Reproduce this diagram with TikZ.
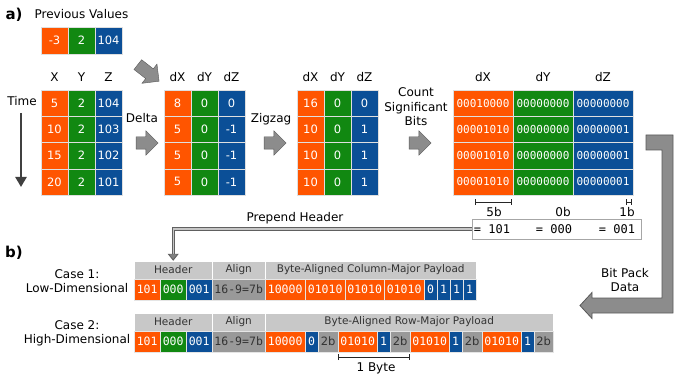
\documentclass[tikz,border=0pt]{standalone}
\usepackage{fontspec}
\setmainfont{DejaVu Sans}
\setmonofont{DejaVu Sans Mono}
\usepackage{xcolor}
\usepackage{tikz}
\usetikzlibrary{positioning, arrows.meta, shapes.arrows, calc}
\definecolor{orng}{RGB}{255,85,0}
\definecolor{grn}{RGB}{17,136,17}
\definecolor{blu}{RGB}{11,79,151}
\definecolor{hdrgray}{RGB}{200,200,200}
\definecolor{algray}{RGB}{153,153,153}
\definecolor{arrgray}{RGB}{140,140,140}

\begin{document}
\begin{tikzpicture}[x=1pt, y=-1pt,
    cell/.style={draw=gray!25, fill=#1, text=white, minimum width=27pt, minimum height=26.25pt, inner sep=0pt, font=\fontsize{11.5}{13}\selectfont},
    bincell/.style={cell=#1, minimum width=60pt, font=\ttfamily\fontsize{11}{12}\selectfont},
    colhead/.style={font=\fontsize{12}{13}\selectfont},
    lbl/.style={font=\fontsize{12}{14.5}\selectfont, align=center},
    blockarr/.style={single arrow, draw=gray!70!black, fill=arrgray, minimum height=22pt, inner sep=6pt, single arrow head extend=6pt, single arrow head indent=0pt},
    hcell/.style={draw=white, fill=hdrgray, text=black!80, minimum height=18pt, inner sep=0pt, anchor=west, font=\fontsize{10.5}{12}\selectfont},
    pcell/.style={draw=white!80!gray, minimum height=21pt, inner sep=0pt, anchor=west, font=\ttfamily\fontsize{11.5}{12}\selectfont},
    po/.style={pcell, fill=orng, text=white},
    pg/.style={pcell, fill=grn, text=white},
    pb/.style={pcell, fill=blu, text=white},
    pa/.style={pcell, fill=algray, text=black!80},
    pt/.style={pcell, fill=algray, text=black!80, font=\fontsize{11.5}{12}\selectfont},
    tick/.style={{Bar[width=6pt]}-{Bar[width=6pt]}, line width=1pt, black!85},
    prep/.style={draw=gray!75!black, double=gray!45, double distance=1.3pt, line width=0.9pt, -{Triangle[length=7pt, width=11pt, fill=gray]}},
    panel/.style={font=\bfseries\fontsize{15}{17}\selectfont}
]
\useasboundingbox (0,0) rectangle (675,377);

% Panel labels
\node[panel] (pa) at (14,15) {a)};
\node[panel] (pb) at (14,253) {b)};

% Previous values
\node[lbl] (prevlbl) at (81.5,14) {Previous Values};
\node[cell=orng, minimum height=27pt] (prev-x) at (54.5,40.5) {-3};
\node[cell=grn, minimum height=27pt]  (prev-y) at (81.5,40.5) {2};
\node[cell=blu, minimum height=27pt]  (prev-z) at (108.5,40.5) {104};

% Raw values
\node[colhead] (hx) at (54.5,77) {X};
\node[colhead] (hy) at (81.5,77) {Y};
\node[colhead] (hz) at (108.5,77) {Z};
\foreach \xv/\yv/\zv [count=\r] in {5/2/104, 10/2/103, 15/2/102, 20/2/101} {
  \node[cell=orng] (raw-x\r) at (54.5,76.875+26.25*\r) {\xv};
  \node[cell=grn]  (raw-y\r) at (81.5,76.875+26.25*\r) {\yv};
  \node[cell=blu]  (raw-z\r) at (108.5,76.875+26.25*\r) {\zv};
}
\node[lbl] (time) at (22,101) {Time};
\coordinate (time-top) at (21,113);
\coordinate (time-end) at (21,187);
\draw[line width=2.5pt, black!75, -{Triangle[length=10pt, width=11pt]}] (time-top) -- (time-end);

% Delta
\node[blockarr, minimum height=27pt, rotate=-38] (arr-prev) at (146,71) {};
\node[lbl] (delta) at (142,118) {Delta};
\node[blockarr] (arr-delta) at (144,143) {};
\node[colhead] (dhx) at (177.5,77) {dX};
\node[colhead] (dhy) at (204.5,77) {dY};
\node[colhead] (dhz) at (231.5,77) {dZ};
\foreach \xv/\yv/\zv [count=\r] in {8/0/0, 5/0/-1, 5/0/-1, 5/0/-1} {
  \node[cell=orng] (del-x\r) at (177.5,76.875+26.25*\r) {\xv};
  \node[cell=grn]  (del-y\r) at (204.5,76.875+26.25*\r) {\yv};
  \node[cell=blu]  (del-z\r) at (231.5,76.875+26.25*\r) {\zv};
}

% Zigzag
\node[lbl] (zigzag) at (271,119) {Zigzag};
\node[blockarr] (arr-zig) at (272,143) {};
\node[colhead] (zhx) at (310.5,77) {dX};
\node[colhead] (zhy) at (337.5,77) {dY};
\node[colhead] (zhz) at (364.5,77) {dZ};
\foreach \xv/\yv/\zv [count=\r] in {16/0/0, 10/0/1, 10/0/1, 10/0/1} {
  \node[cell=orng] (zig-x\r) at (310.5,76.875+26.25*\r) {\xv};
  \node[cell=grn]  (zig-y\r) at (337.5,76.875+26.25*\r) {\yv};
  \node[cell=blu]  (zig-z\r) at (364.5,76.875+26.25*\r) {\zv};
}

% Significant bits
\node[lbl] (count) at (416,107) {Count\\Significant\\Bits};
\node[blockarr] (arr-count) at (417,143) {};
\node[colhead] (bhx) at (483,77) {dX};
\node[colhead] (bhy) at (543,77) {dY};
\node[colhead] (bhz) at (603,77) {dZ};
\foreach \xv/\yv/\zv [count=\r] in {00010000/00000000/00000000, 00001010/00000000/00000001, 00001010/00000000/00000001, 00001010/00000000/00000001} {
  \node[bincell=orng] (bin-x\r) at (483,76.875+26.25*\r) {\xv};
  \node[bincell=grn]  (bin-y\r) at (543,76.875+26.25*\r) {\yv};
  \node[bincell=blu]  (bin-z\r) at (603,76.875+26.25*\r) {\zv};
}
\coordinate (bx-a) at (475,202);
\coordinate (bx-b) at (512,202);
\coordinate (bz-a) at (625.5,202);
\coordinate (bz-b) at (632,202);
\draw[tick] (bx-a) -- (bx-b);
\draw[tick] (bz-a) -- (bz-b);
\node[colhead] (nx) at (494,212) {5b};
\node[colhead] (ny) at (563,212) {0b};
\node[colhead] (nz) at (627,212) {1b};

% Header bits
\node[draw=gray!70, line width=0.9pt, minimum width=169pt, minimum height=20pt, inner sep=0pt] (hdrbox) at (556.5,229) {};
\node[font=\ttfamily\fontsize{12}{13}\selectfont] (hbx) at (492,229) {= 101};
\node[font=\ttfamily\fontsize{12}{13}\selectfont] (hby) at (554,229) {= 000};
\node[font=\ttfamily\fontsize{12}{13}\selectfont] (hbz) at (617,229) {= 001};

% Case 1
\node[lbl] (case1) at (77,281) {Case 1:\\Low-Dimensional};
\node[hcell, minimum width=78pt]  (one-hdr) at (134,270) {Header};
\node[hcell, minimum width=53pt]  (one-aln) at (212,270) {Align};
\node[hcell, minimum width=211pt] (one-pay) at (265,270) {Byte-Aligned Column-Major Payload};
\foreach \lx/\w/\t/\c [count=\i] in {134/26/101/po, 160/26/000/pg, 186/26/001/pb, 212/53/16-9=7b/pa,
    265/40/10000/po, 305/40/01010/po, 345/39/01010/po, 384/40/01010/po,
    424/13/0/pb, 437/13/1/pb, 450/13/1/pb, 463/13/1/pb} {
  \node[\c, minimum width=\w pt] (one-\i) at (\lx,289.5) {\t};
}

% Case 2
\node[lbl] (case2) at (77,333.5) {Case 2:\\High-Dimensional};
\node[hcell, minimum width=78pt]  (two-hdr) at (134,322) {Header};
\node[hcell, minimum width=53pt]  (two-aln) at (212,322) {Align};
\node[hcell, minimum width=288pt] (two-pay) at (265,322) {Byte-Aligned Row-Major Payload};
\foreach \lx/\w/\t/\c [count=\i] in {134/26/101/po, 160/26/000/pg, 186/26/001/pb, 212/53/16-9=7b/pa,
    265/40/10000/po, 305/13/0/pb, 318/20/2b/pt, 338/39/01010/po, 377/13/1/pb, 390/20/2b/pt,
    410/39/01010/po, 449/13/1/pb, 462/20/2b/pt, 482/39/01010/po, 521/13/1/pb, 534/19/2b/pt} {
  \node[\c, minimum width=\w pt] (two-\i) at (\lx,341.5) {\t};
}
\draw[tick] ($(two-8.south west)+(0,5)$) -- ($(two-10.south east)+(0,5)$);
\node[colhead] (byte) at (376,368) {1 Byte};

% Prepend header
\node[lbl] (preplbl) at (295,218) {Prepend Header};
\draw[prep] (hdrbox.west) -| (one-hdr.north);

% Bit pack
\node[lbl] (bitpack) at (625,280) {Bit Pack\\Data};
\draw[draw=gray!70!black, fill=arrgray, line width=0.8pt]
  (646,135) -- (673,135) -- (673,313) -- (592,313) -- (592,318.5) -- (580,305.5)
  -- (592,292.5) -- (592,298) -- (662,298) -- (662,150) -- (646,150) -- cycle;
\end{tikzpicture}
\end{document}
